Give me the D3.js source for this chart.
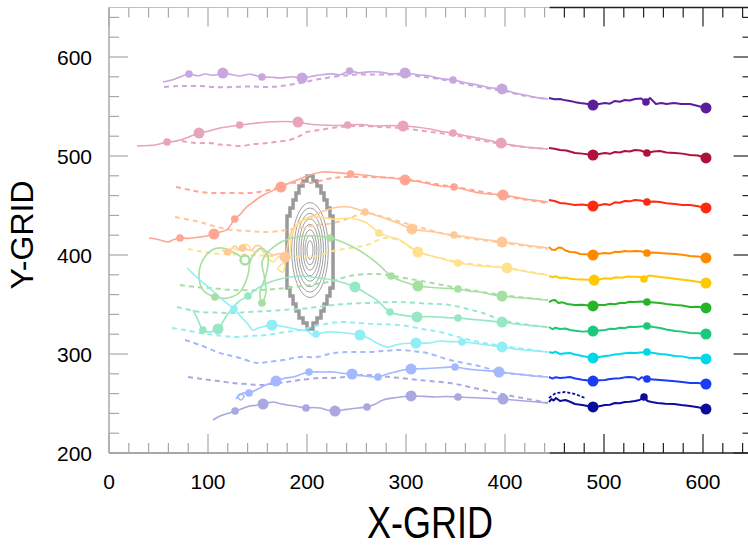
<!DOCTYPE html>
<html><head><meta charset="utf-8">
<script src="https://cdn.jsdelivr.net/npm/d3@7"></script>
<style>body{margin:0;background:#fff}svg{display:block}text{font-family:"Liberation Sans",Arial,Helvetica,sans-serif}</style>
</head><body><svg id="c" width="748" height="548"></svg>
<script>
// ---------- axes ----------
const xDomain = [0, 650];
const yDomain = [200, 650];
const xMajor = [0, 100, 200, 300, 400, 500, 600];
const yMajor = [200, 300, 400, 500, 600];
const xTickLabels = ["0", "100", "200", "300", "400", "500", "600"];
const yTickLabels = ["200", "300", "400", "500", "600"];
const xTitle = "X-GRID", yTitle = "Y-GRID";
const splitX = 445; // left part faded, right part full colour

// ---------- colours ----------
const paleColors = ["#c8a6df", "#e9a3bc", "#ffa592", "#ffc896", "#ffe08c", "#a6e0a0", "#96e8c4", "#90eff5", "#a3b8ff", "#a9a8e0"];
const darkColors = ["#5a1e9a", "#b0103c", "#ff2a10", "#ff8a00", "#ffc800", "#28b428", "#1ec87a", "#00d8ea", "#1a3cf5", "#0c0c9c"];

// ---------- tracks: [x, y, marker] marker 0 none, 1 small dot, 2 big dot, 3 ring ----------
const s1Solid = [[54.5,574.7,0],[66.7,577.8,0],[80.8,582.8,1],[90,581,0],[97,582.8,0],[106,581.5,0],[115,583.8,2],[125,582,0],[132,580.8,0],[142,582.5,0],[154.5,579.8,1],[165,579.5,0],[173,578.8,0],[185,580,0],[195,578.8,2],[205,580.5,0],[213,581.8,0],[225,583,0],[233,582,0],[243,585.9,1],[252,584,0],[262,585,0],[273,584.8,0],[285,583,0],[299,583.8,2],[312,582,0],[324,580.8,0],[336,578,0],[347.5,576.8,1],[360,574,0],[373,571.7,0],[385,569,0],[397,567.7,2],[410,563.5,0],[420,561.6,0],[432,559,0],[443.4,557.6,0]];
const s1Dash = [[55.6,569.7],[66,570.5],[76.8,570.7],[91.9,570.7],[108,569.5],[125,569.7],[142,570.2],[159.6,569.7],[176,571],[192.9,573.7],[213,577.8],[243,581.8],[270,582.3],[299,581.8],[325,579],[347.5,575.2],[373,570],[397,566],[420,560.8],[443.4,557.6]];
const s1Dark = [[444.4,558.6,0],[450,557.4,0],[455.6,557.6,0],[461,556.2,0],[465.7,555.6,0],[471,554.4,0],[475.8,553.5,0],[482,552.8,0],[488.9,551.5,2],[495,552.5,0],[501,553.5,0],[506,552.8,0],[511,555.6,0],[516,554.8,0],[521,556.6,0],[526,556,0],[531.3,557.6,0],[537.4,558.2,0],[542.4,554.5,1],[546.5,558.6,0],[549.5,555.6,0],[552.5,552.5,0],[558,553.5,0],[563,552.6,0],[570.7,553.5,0],[578,552.5,0],[586.9,552.5,0],[595,550.5,0],[603,548.5,2]];

const s2Solid = [[28.3,510.1,0],[40,510.6,0],[46.5,511.1,0],[58.6,514.1,1],[66,514.8,0],[71.7,516.2,0],[80,519,0],[90.9,523.2,2],[100,525,0],[112,528.3,0],[122,529.8,0],[132,531.3,1],[145,532.8,0],[159.6,534.3,0],[175,534.8,0],[190.9,534.3,2],[200,532.5,0],[213,531.3,0],[228,530.8,0],[241,531.3,1],[255,531.8,0],[268.7,530.3,0],[283,530.8,0],[297,530.3,2],[310,529.3,0],[324,527.3,0],[336,524.8,0],[347.5,523.2,1],[360,520.5,0],[372.7,518.2,0],[385,515.5,0],[396,513.1,2],[410,510.5,0],[420,509.1,0],[432,508,0],[443.4,507.1,0]];
const s2Dash = [[73.7,515.2],[86.9,513.1],[102,513.1],[112,511.5],[120,511.1],[132,510.1],[147.5,512.1],[159.6,513.1],[170,514.5],[182.8,516.2],[192,520],[200,524.2],[213,526.3],[233,529.3],[253.5,530.3],[275,529.3],[293.9,528.3],[320,525],[347.5,521.2],[372,516.5],[396,512.1],[420,509],[443.4,507.1]];
const s2Dark = [[444.4,508.1,0],[450,507.4,0],[455.6,506.1,0],[462,505.6,0],[470.7,503,0],[478,502.4,0],[488.9,501,2],[495,502,0],[501,503,0],[506,502.2,0],[511,504,0],[516,503.5,0],[521,505.1,0],[526,504.6,0],[531.3,506.1,0],[537,505.6,0],[543.4,503,1],[550,504.6,0],[556.6,505.1,0],[563,503.6,0],[571.7,503,0],[579,502.4,0],[586.9,501,0],[595,500.5,0],[603,498,2]];

const s3Solid = [[40.4,417.2,0],[51.5,415.2,0],[59.6,413.1,0],[65,415.5,0],[71.7,417.2,1],[80,416.8,0],[91.9,418.2,0],[100,419.5,0],[106,421.2,2],[113,423.5,0],[119,425.3,0],[127,436.4,1],[133,441.5,0],[139,448.5,0],[145,453,0],[152.5,458.6,0],[162,463.5,0],[173.7,468.7,2],[182,472.5,0],[189.9,475.8,0],[200,479.8,0],[215,483.8,0],[230,483.2,0],[244,481.8,1],[260,480.5,0],[273.7,478.8,0],[286,477.8,0],[299,475.8,2],[312,474.2,0],[324,471.7,0],[336,469.5,0],[348.5,468.7,1],[362,465.5,0],[374.7,462.6,0],[386,461.6,0],[398,460.6,2],[410,458.5,0],[420,456.6,0],[432,455,0],[443.4,453.5,0]];
const s3Dash = [[67.7,468.7],[81.8,465.7],[91.9,463.6],[107,462.6],[125,462.6],[142,462.6],[155,464.3],[165.7,466.7],[174,469.2],[182.8,472.7],[203,472.7],[226,477.8],[260.6,478.8],[299,476.8],[325,472.5],[348.5,468.7],[374,464.5],[398,459.6],[420,456],[443.4,452.5]];
const s3Dark = [[444.4,455.6,0],[450,454.5,0],[455.6,452.5,0],[462,451.9,0],[470.7,450.5,0],[478,450.9,0],[488.9,449.5,2],[495,450.2,0],[501,451.5,0],[506,450.6,0],[511,453.2,0],[516,452.8,0],[521,454.5,0],[526,454.2,0],[531.3,455.6,0],[537,455,0],[543.4,453.5,1],[550,454,0],[556.6,453.5,0],[563,452.2,0],[571.7,451.5,0],[579,450.5,0],[586.9,450.5,0],[595,449.2,0],[603,447.5,2]];

const s4Solid = [[114,405,0],[120,403,1],[127,409.1,0],[131,406,0],[135,407.1,1],[140,405.5,0],[144.4,405,0],[148,409,0],[152.5,409.1,0],[156,404,0],[160.6,403,0],[164,400.5,0],[167.7,400,0],[172,401.5,0],[177.8,398,2],[180,408,0],[182.8,420.2,0],[187,428,0],[192.9,433.3,0],[200,437.5,0],[208,440.4,0],[217,444.5,0],[226,447.5,0],[235,448.8,0],[243,448.5,0],[250,446.5,0],[258.6,443.4,1],[270,440,0],[280.8,436.4,0],[293,431.8,0],[306,426.3,2],[318,424.5,0],[329.3,423.2,0],[339,421.2,0],[348.5,420.2,1],[362,418.2,0],[374.7,416.2,0],[386,414.8,0],[397,413.1,2],[409,411.8,0],[420,410.1,0],[432,408.5,0],[443.4,407.1,0]];
const s4Dash = [[66.7,438.4],[81.8,435.4],[91.9,433.3],[100,431],[109,428.3],[125,425.3],[142.4,424.2],[159.6,423.2],[179.8,425.3],[203,429.3],[226,432.3],[243.4,437.4],[258.6,442.4],[283.8,436.4],[310,429],[348.5,419.2],[397,412.5],[443.4,406.1]];
const s4Dark = [[444.4,408.1,0],[447,405.5,0],[450.5,405,0],[454,407.5,0],[457.6,407.1,0],[461,404.5,0],[465.7,403,0],[471,402.8,0],[475.8,401,0],[482,400.8,0],[488.9,400,2],[495,401.2,0],[501,402,0],[506,401.5,0],[511,403.2,0],[516,403,0],[521,404,0],[526,403.6,0],[531.3,404,0],[537,403.8,0],[543.4,402,1],[550,402.6,0],[556.6,402,0],[563,401.6,0],[571.7,401,0],[579,400.2,0],[586.9,399,0],[595,398.6,0],[603,397,2]];

const s5Solid = [[124.2,408.1,0],[128,405.6,0],[132.3,405,0],[136,410.5,0],[140.4,410.1,0],[144,405,0],[147.5,403,0],[151,406,0],[154.5,405,0],[158,399.5,0],[160.6,397,0],[163,394.5,0],[165.7,392.9,0],[169,396,0],[172.7,399,0],[176,394,0],[177.8,389.9,0],[176.8,385,0],[175.8,382.8,0],[172,384.5,0],[170.7,386.9,0],[175,391,0],[180.8,395,0],[183,405,0],[184.8,420.2,0],[188,428,0],[192.9,433.3,0],[200,437,0],[210,438.5,0],[226,436.4,0],[243.4,437.4,0],[252,435.5,0],[258.6,433.3,0],[265,429,0],[272.7,422.2,1],[283,418.5,0],[293.9,415.2,0],[303,409,0],[312,403,2],[322,400,0],[334.3,397,0],[343,394.2,0],[352.5,391.9,1],[363,390.5,0],[374.7,388.9,0],[388,388.2,0],[402,386.9,2],[413,384.8,0],[423.2,382.8,0],[433,381.2,0],[443.4,379.8,0]];
const s5Dash = [[79.8,406.1],[91,404],[102,402],[120,401],[142.4,400],[160,399],[179.8,398],[195,398.5],[210,399],[226,404],[243.4,407.1],[260.6,410.1],[278.8,417.2],[293.9,414.5],[312,403.5],[352.5,393],[397,387.5],[443.4,379.8]];
const s5Dark = [[444.4,378.8,0],[448,377.5,0],[451,378.5,0],[455.6,376.8,0],[461,377.2,0],[466,376,0],[471,375.6,0],[478,375.2,0],[490,374.7,2],[496,375.5,0],[501,376.5,0],[507,376,0],[512,377.5,0],[518,377,0],[524,378.2,0],[530,378,0],[537.4,377.8,0],[540.4,375.8,1],[545,379.2,0],[550,378.8,0],[556.6,377.8,0],[564,377,0],[571.7,376,0],[580,375,0],[588,374,0],[595,373,0],[603,371.7,2]];

const s6Solid = [[137.4,395,3],[127.3,402,0],[114.1,407.1,0],[104,405,0],[94.9,395,0],[90.9,379.8,0],[94.9,364.6,0],[107,357.6,1],[120.2,356.6,0],[132.3,362.6,0],[140.4,379.8,0],[142.4,393,0],[147.5,402,0],[154.5,407.1,0],[160.6,399,0],[158.6,379.8,0],[152.5,362.6,0],[154.5,351.5,1],[158.6,362.6,0],[156.6,379.8,0],[154.5,393,0],[162.6,405,0],[177.8,415,0],[198,419.2,0],[223.2,417.2,1],[248.5,407.1,0],[270.7,391.9,0],[284.8,378.8,1],[298,373,0],[312,368.7,2],[324,367.5,0],[334.3,366.7,0],[343,366.2,0],[352.5,365.7,1],[364,363.5,0],[374.7,362.6,0],[386,360.2,0],[397,358.6,2],[409,357.2,0],[420.2,356.6,0],[432,355.5,0],[443.4,354.5,0]];
const s6Dash = [[71.7,369.7],[86.9,367.7],[102,366.7],[125.3,364.6],[152.5,364.6],[179.8,366.7],[203,369.7],[226,373.7],[243,378.8],[270.7,380.8],[304,375.8],[352.5,366.7],[397,359.6],[443.4,354.5]];
const s6Dark = [[444.4,352.5,0],[447,354,0],[450.5,354.5,0],[454,351.5,0],[458,352.2,0],[463,350.5,0],[470.7,349.5,0],[478,349.8,0],[488.9,348.5,2],[495,349.5,0],[501,349.5,0],[506,350.8,0],[511,350.2,0],[516,351.5,0],[521,351.5,0],[526,352.8,0],[531.3,352.5,0],[537,353,0],[543.4,352.5,1],[550,352,0],[556.6,351.5,0],[563,350.5,0],[571.7,349.5,0],[579,349,0],[586.9,347.5,0],[595,347.8,0],[603,346.5,2]];

const s7Solid = [[84.8,344.4,0],[89.9,334.3,0],[94.9,324.2,1],[102,322.2,0],[110.1,325.3,2],[119.2,339.4,0],[130.3,352.5,0],[140.4,358.6,1],[147.5,364.6,0],[162.6,372.7,0],[192.9,378.8,0],[210,377,0],[226.3,374.7,0],[248.5,367.7,2],[260,361,0],[270.7,354.5,0],[283.8,342.4,1],[298,339,0],[311.1,337.4,2],[322,337.8,0],[334.3,337.4,0],[343,336.6,0],[352.5,336.4,1],[364,335.2,0],[374.7,334.3,0],[386,333.2,0],[397,332.3,2],[409,330.5,0],[420.2,329.3,0],[432,328.2,0],[443.4,327.3,0]];
const s7Dash = [[68.7,347.5],[81.8,344.4],[91.9,342.4],[108,341.8],[125.3,341.4],[142,342.5],[159.6,343.4],[176,344.5],[192.9,345.5],[210,347.5],[226.3,349.5],[243,350.8],[260.6,351.5],[277,352.2],[293.9,352.5],[320,351],[344.4,349.5],[362,345.5],[377.8,341.4],[397,334.3],[420,330],[443.4,327.3]];
const s7Dark = [[444.4,327.3,0],[448,325,0],[451,326.5,0],[455.6,325.3,0],[461,325.8,0],[465.7,324.2,0],[471,323.5,0],[478,322.6,0],[488.9,323.2,2],[495,323.8,0],[501,324.2,0],[506,325.4,0],[511,325.2,0],[516,326.6,0],[521,326.3,0],[526,327.5,0],[531.3,327.3,0],[537,327.8,0],[543.4,328.3,1],[550,327.2,0],[556.6,326.3,0],[563,324.8,0],[571.7,323.2,0],[579,322.6,0],[586.9,321.2,0],[595,321,0],[603,320.2,2]];

const s8Solid = [[78.8,386.9,0],[85,381,0],[91.9,374.7,0],[100,368,0],[107.1,361.6,0],[117,353,0],[126.3,345.5,1],[133,338,0],[139.4,331.3,0],[145.5,324.2,0],[150,326,0],[154.5,327.3,0],[164.6,329.3,2],[174,328,0],[182.8,326.3,0],[192.9,324.2,0],[201,323,0],[205,319.5,0],[209.1,320.2,1],[218,322,0],[226.3,322.2,0],[238.4,321.2,0],[253.5,319.2,2],[262,316,0],[268.7,312.1,0],[280.8,307.1,0],[293.9,310.1,0],[310.1,311.1,2],[324.2,311.1,0],[330,312.5,0],[334.3,313.1,0],[345,312.5,0],[356.6,312.1,1],[365,311.5,0],[374.7,310.1,0],[386,308.6,0],[397,307.1,2],[409,305.2,0],[420.2,304,0],[432,303,0],[443.4,302,0]];
const s8Dash = [[63.6,326.3],[76.8,324.2],[91.9,321.2],[107.1,319.2],[125.3,317.2],[142.4,318.2],[159.6,319.2],[177.8,322.2],[192.9,324.2],[213.1,329.3],[233.3,332.3],[250,331.5],[267.7,330.3],[285,329.8],[301,328.3],[318,325],[334.3,322.2],[350,318],[364.6,314.1],[380,311],[397,308.1],[420,305],[443.4,302]];
const s8Dark = [[444.4,302,0],[448,301,0],[451,302.5,0],[455.6,300,0],[461,300.8,0],[465.7,301,0],[471,299.5,0],[478,298,0],[488.9,296,2],[495,297,0],[501,298,0],[506,298.6,0],[511,299.5,0],[516,300,0],[521,300.8,0],[526,301.2,0],[531.3,301,0],[537,301.6,0],[543.4,302,1],[550,301,0],[556.6,300,0],[563,299.5,0],[571.7,298,0],[579,297.6,0],[586.9,296,0],[595,296.2,0],[603,295,2]];

const s9Solid = [[128.3,254.5,0],[132.3,259.6,0],[136.4,257.6,0],[133.3,253.5,0],[130.3,256.6,0],[135.4,260.6,0],[141.4,260.6,1],[152.5,265.7,0],[160,269.5,0],[168.7,272.7,2],[177,275.5,0],[185.9,276.8,0],[194,279.5,0],[202,281.8,1],[214,281.8,0],[226.3,281.8,0],[236,280.5,0],[245.5,279.8,2],[258.6,277.8,0],[271.7,276.8,1],[280,279.5,0],[288.9,281.8,0],[297,283.8,0],[305.1,284.8,2],[318,285.2,0],[329.3,285.9,0],[340,286.5,0],[349.5,286.9,1],[361,285,0],[372.7,283.8,0],[383,283,0],[394,281.8,2],[408,280.2,0],[420.2,278.8,0],[432,277.6,0],[443.4,276.8,0]];
const s9Dash = [[76.8,314.1],[91.9,309.1],[109.1,302],[120,299],[132.3,296],[149.5,290.9],[160,292],[175.8,293.9],[192.9,297],[210.1,297],[226.3,301],[243,302],[260.6,302],[277,303],[293.9,304],[310,302.5],[321.2,301],[344.4,293.9],[377.8,286.9],[394,281.8],[420,279],[443.4,276.8]];
const s9Dark = [[444.4,276.8,0],[448,275.2,0],[451,276.6,0],[455.6,275.8,0],[461,276.2,0],[465.7,276.8,0],[471,275.2,0],[478,274,0],[488.9,272.7,2],[495,273.5,0],[501,273.7,0],[506,274.8,0],[511,275.2,0],[516,275.5,0],[521,276.4,0],[526,276.8,0],[531.3,276.2,0],[535,274,0],[538,276.5,0],[543.4,274.7,1],[550,274.2,0],[556.6,273.7,0],[563,273.2,0],[571.7,272.5,0],[579,271.7,0],[586.9,270.7,0],[595,270.8,0],[603,269.7,2]];

const s10Solid = [[105.1,233.3,0],[112.1,237.4,0],[120,240,0],[127.3,242.4,1],[135,245,0],[142.4,247.5,0],[148,248,0],[155.6,249.5,2],[160,250.5,0],[165.7,251.5,0],[172,250,0],[179.8,248.5,0],[190,247,0],[199,245.5,1],[206,246,0],[213.1,245.5,0],[220,243.5,0],[228.3,242.4,2],[236,243.5,0],[243.4,244.4,0],[252,245.5,0],[260.6,246.5,1],[268,249,0],[276.8,253.5,0],[290,256,0],[305.1,257.6,2],[318,257.2,0],[329.3,256.6,0],[340,257,0],[352.5,256.6,1],[364,256,0],[374.7,255.6,0],[386,255,0],[398,254.5,2],[409,253.5,0],[420.2,252.5,0],[432,251.5,0],[443.4,250.5,0]];
const s10Dash = [[79.8,276.8],[91,275.2],[102,273.7],[114,272.2],[125.3,270.7],[140,269.5],[152.5,268.7],[166,270],[179.8,271.7],[192.9,273.7],[213.1,275.8],[226.3,275.8],[243,277.3],[260.6,278.8],[277,277.3],[293.9,275.8],[310,274],[324.2,272.7],[344.4,270.7],[361,267.5],[377.8,263.6],[395,260],[412.1,256.6],[428.3,253.5],[443.4,250.5]];
const s10Dark = [[444.4,251.5,0],[447,254.5,0],[449,253,0],[451.5,255.6,0],[455.6,252.5,0],[461,253.5,0],[465.7,251.8,0],[470.7,249.5,0],[478,248.5,0],[488.9,246.5,2],[495,247.2,0],[501,248.5,0],[506,248.8,0],[511,250.5,0],[516,250.2,0],[521,251.5,0],[526,251.8,0],[531.3,252.5,0],[536,253.5,0],[540.4,256.6,1],[544,252.5,0],[548,251.5,0],[554,250.5,0],[562,249.8,0],[570.7,249.5,0],[578,248.5,0],[586.9,247.5,0],[595,246.2,0],[603,244.4,2]];
const s10DarkDash = [[444.4,255.6],[451.5,260.6],[460.6,261.6],[470.7,259.6],[480.8,255.6]];

// ---------- gray contours ----------
const contourCenter = [203, 405];
const contourRx = [18.5, 16, 13.6, 11.3, 9.1, 7, 5, 3];
const contourRy = [48, 42.5, 37, 31.5, 26, 20.5, 15, 9.5];
// stepped outline: x of steps (right / left) and y of steps (top / bottom)
const outlineRightX = [206.1, 210.1, 214.1, 217.2, 220.2, 223.2, 226.3];
const outlineLeftX  = [200, 196, 191.9, 188.9, 185.9, 182.8, 179.8];
const outlineTopY   = [479.8, 474.7, 469.7, 462.6, 455.6, 447.5, 439.4];
const outlineBotY   = [325.3, 331.3, 336.4, 343.4, 350.5, 358.6, 366.7];

// ---------- drawing ----------
const svg = d3.select("#c");
const x = d3.scaleLinear().domain(xDomain).range([109, 752.5]);
const y = d3.scaleLinear().domain(yDomain).range([453, 7.5]);

const series = [
  [s1Solid, s1Dash, s1Dark], [s2Solid, s2Dash, s2Dark], [s3Solid, s3Dash, s3Dark],
  [s4Solid, s4Dash, s4Dark], [s5Solid, s5Dash, s5Dark], [s6Solid, s6Dash, s6Dark],
  [s7Solid, s7Dash, s7Dark], [s8Solid, s8Dash, s8Dark], [s9Solid, s9Dash, s9Dark],
  [s10Solid, s10Dash, s10Dark]
];

const smooth = d3.line().x(d => x(d[0])).y(d => y(d[1])).curve(d3.curveCatmullRom.alpha(0.5));
const lin = d3.line().x(d => x(d[0])).y(d => y(d[1]));

// contours
const gc = svg.append("g");
contourRx.forEach((rx, i) => {
  gc.append("ellipse")
    .attr("cx", x(contourCenter[0])).attr("cy", y(contourCenter[1]))
    .attr("rx", x(contourCenter[0] + rx) - x(contourCenter[0]))
    .attr("ry", y(contourCenter[1]) - y(contourCenter[1] + contourRy[i]))
    .attr("fill", "none").attr("stroke", "#a0a0a0").attr("stroke-width", 1);
});
const outline = [];
outline.push([outlineLeftX[0], outlineTopY[0]]);
for (let i = 0; i < outlineRightX.length; i++) {
  outline.push([outlineRightX[i], outlineTopY[i]]);
  if (i + 1 < outlineRightX.length) outline.push([outlineRightX[i], outlineTopY[i + 1]]);
}
for (let i = outlineRightX.length - 1; i >= 0; i--) {
  outline.push([outlineRightX[i], outlineBotY[i]]);
  if (i > 0) outline.push([outlineRightX[i - 1], outlineBotY[i]]);
}
for (let i = 0; i < outlineLeftX.length; i++) {
  outline.push([outlineLeftX[i], outlineBotY[i]]);
  if (i + 1 < outlineLeftX.length) outline.push([outlineLeftX[i], outlineBotY[i + 1]]);
}
for (let i = outlineLeftX.length - 1; i >= 0; i--) {
  outline.push([outlineLeftX[i], outlineTopY[i]]);
  if (i > 0) outline.push([outlineLeftX[i - 1], outlineTopY[i]]);
}
gc.append("path").attr("d", lin(outline) + "Z")
  .attr("fill", "none").attr("stroke", "#9a9a9a").attr("stroke-width", 3.5).attr("stroke-linejoin", "miter");

// pale tracks
const gp = svg.append("g");
series.forEach((s, i) => {
  gp.append("path").attr("d", smooth(s[1])).attr("fill", "none")
    .attr("stroke", paleColors[i]).attr("stroke-width", 2).attr("stroke-dasharray", "5,4");
});
series.forEach((s, i) => {
  gp.append("path").attr("d", smooth(s[0])).attr("fill", "none")
    .attr("stroke", paleColors[i]).attr("stroke-width", 1.6);
});
series.forEach((s, i) => {
  s[0].filter(d => d[2] > 0).forEach(d => {
    const c = gp.append("circle").attr("cx", x(d[0])).attr("cy", y(d[1]));
    if (d[2] === 3) c.attr("r", 4.5).attr("fill", "#fff").attr("stroke", paleColors[i]).attr("stroke-width", 2.5);
    else c.attr("r", d[2] === 2 ? 5.5 : 3.8).attr("fill", paleColors[i]);
  });
});

// dark tracks
const gd = svg.append("g");
gd.append("path").attr("d", lin(s10DarkDash)).attr("fill", "none")
  .attr("stroke", darkColors[9]).attr("stroke-width", 1.8).attr("stroke-dasharray", "3,2");
series.forEach((s, i) => {
  gd.append("path").attr("d", lin(s[2])).attr("fill", "none")
    .attr("stroke", darkColors[i]).attr("stroke-width", 2).attr("stroke-linejoin", "round");
  s[2].filter(d => d[2] > 0).forEach(d => {
    gd.append("circle").attr("cx", x(d[0])).attr("cy", y(d[1]))
      .attr("r", d[2] === 2 ? 5.5 : 3.8).attr("fill", darkColors[i]);
  });
});

// axes (frame + inward ticks)
const ga = svg.append("g");
const fade = "#a8a8a8", dark = "#222";
const colFor = v => v < splitX ? fade : dark;
const xMinor = d3.range(0, 651, 20).filter(v => !xMajor.includes(v));
const yMinor = d3.range(200, 651, 20).filter(v => !yMajor.includes(v));
// spines
ga.append("line").attr("x1", x(0)).attr("x2", x(0)).attr("y1", y(200)).attr("y2", y(650)).attr("stroke", fade).attr("stroke-width", 1.5);
ga.append("line").attr("x1", x(0)).attr("x2", x(splitX)).attr("y1", y(200)).attr("y2", y(200)).attr("stroke", "#8a8a8a").attr("stroke-width", 1.5);
ga.append("line").attr("x1", x(splitX)).attr("x2", x(650)).attr("y1", y(200)).attr("y2", y(200)).attr("stroke", dark).attr("stroke-width", 1.5);
ga.append("line").attr("x1", x(0)).attr("x2", x(splitX)).attr("y1", y(650)).attr("y2", y(650)).attr("stroke", "#c0c0c0").attr("stroke-width", 1.2);
ga.append("line").attr("x1", x(splitX)).attr("x2", x(650)).attr("y1", y(650)).attr("y2", y(650)).attr("stroke", dark).attr("stroke-width", 1.5);
ga.append("line").attr("x1", x(650)).attr("x2", x(650)).attr("y1", y(200)).attr("y2", y(650)).attr("stroke", dark).attr("stroke-width", 1.5);
const tick = (x1, y1, x2, y2, c) => ga.append("line").attr("x1", x1).attr("y1", y1).attr("x2", x2).attr("y2", y2).attr("stroke", c).attr("stroke-width", 1.2);
xMajor.forEach(v => { tick(x(v), y(200), x(v), y(200) - 19, colFor(v)); tick(x(v), y(650), x(v), y(650) + 19, colFor(v)); });
xMinor.forEach(v => { tick(x(v), y(200), x(v), y(200) - 10, colFor(v)); tick(x(v), y(650), x(v), y(650) + 10, colFor(v)); });
yMajor.forEach(v => { tick(x(0), y(v), x(0) + 19, y(v), fade); tick(x(650), y(v), x(650) - 19, y(v), dark); });
yMinor.forEach(v => { tick(x(0), y(v), x(0) + 10, y(v), fade); tick(x(650), y(v), x(650) - 10, y(v), dark); });

// tick labels
xMajor.forEach((v, i) => {
  ga.append("text").attr("x", x(v)).attr("y", y(200) + 36).attr("text-anchor", "middle")
    .attr("font-size", 21).attr("fill", "#000").text(xTickLabels[i]);
});
yMajor.forEach((v, i) => {
  ga.append("text").attr("x", x(0) - 17).attr("y", y(v) + 7.5).attr("text-anchor", "end")
    .attr("font-size", 21).attr("fill", "#000").text(yTickLabels[i]);
});
ga.append("text").attr("transform", "translate(430,538) scale(1,1.22)").attr("text-anchor", "middle")
  .attr("font-size", 36).attr("fill", "#000").text(xTitle);
ga.append("text").attr("transform", "translate(33,235) rotate(-90)").attr("text-anchor", "middle")
  .attr("font-size", 32).attr("fill", "#000").text(yTitle);
</script>
</body></html>
